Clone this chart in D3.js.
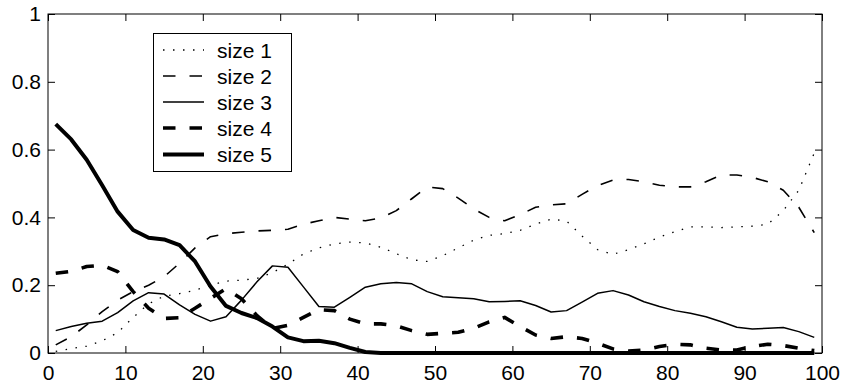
<!DOCTYPE html>
<html>
<head>
<meta charset="utf-8">
<script src="https://cdn.jsdelivr.net/npm/d3@7"></script>
<style>
  html, body { margin: 0; padding: 0; background: #fff; }
  svg { display: block; font-family: "Liberation Sans", Arial, Helvetica, sans-serif; }
</style>
</head>
<body>
<svg id="chart" width="844" height="387"></svg>
<script>
// x positions (odd generations 1..99)
const xs = d3.range(1, 100, 2);

const size1 = [0.005,0.013,0.02,0.036,0.06,0.105,0.145,0.168,0.175,0.185,
               0.2,0.212,0.215,0.22,0.237,0.262,0.292,0.31,0.322,0.327,
               0.325,0.312,0.293,0.275,0.27,0.287,0.31,0.333,0.347,0.352,
               0.362,0.38,0.395,0.389,0.345,0.305,0.291,0.305,0.322,0.342,
               0.358,0.372,0.372,0.37,0.372,0.374,0.38,0.42,0.48,0.59];

const size2 = [0.024,0.048,0.083,0.122,0.156,0.181,0.2,0.225,0.265,0.31,
               0.343,0.352,0.356,0.36,0.362,0.365,0.38,0.39,0.4,0.395,
               0.39,0.398,0.42,0.455,0.49,0.485,0.457,0.425,0.4,0.39,
               0.408,0.43,0.437,0.44,0.468,0.494,0.51,0.512,0.505,0.495,
               0.49,0.49,0.505,0.525,0.525,0.518,0.505,0.48,0.43,0.355];

const size3 = [0.066,0.078,0.088,0.094,0.119,0.154,0.178,0.174,0.142,0.114,
               0.094,0.107,0.156,0.21,0.257,0.253,0.195,0.137,0.135,0.164,
               0.194,0.204,0.208,0.204,0.181,0.166,0.163,0.16,0.151,0.152,
               0.154,0.14,0.121,0.125,0.15,0.176,0.184,0.171,0.151,0.137,
               0.125,0.117,0.107,0.092,0.076,0.071,0.073,0.075,0.063,0.046];

const size4 = [0.235,0.241,0.255,0.259,0.24,0.181,0.132,0.102,0.104,0.132,
               0.161,0.19,0.16,0.11,0.072,0.082,0.105,0.128,0.125,0.1,
               0.086,0.086,0.08,0.066,0.055,0.058,0.061,0.073,0.092,0.105,
               0.078,0.053,0.043,0.048,0.043,0.029,0.012,0.006,0.009,0.019,
               0.026,0.024,0.014,0.009,0.009,0.019,0.026,0.022,0.014,0.007];

const size5 = [0.675,0.63,0.57,0.495,0.417,0.363,0.34,0.335,0.318,0.27,
               0.196,0.139,0.118,0.103,0.078,0.046,0.035,0.036,0.029,0.015,
               0.003,0,0,0,0,0,0,0,0,0,
               0,0,0,0,0,0,0,0,0,0,
               0,0,0,0,0,0,0,0,0,0];

const seriesNames = ["size 1", "size 2", "size 3", "size 4", "size 5"];
const xTicks = [0,10,20,30,40,50,60,70,80,90,100];
const yTicks = [0,0.2,0.4,0.6,0.8,1];

const styles = [
  {w: 1.3, dash: "1.5 8.5"},
  {w: 1.6, dash: "12.5 14"},
  {w: 1.5, dash: null},
  {w: 3.6, dash: "12.5 14"},
  {w: 4.0, dash: null}
];

const svg = d3.select("#chart");
const L = 48, R = 822, T = 14, B = 353;
const x = d3.scaleLinear().domain([0, 100]).range([L, R]);
const y = d3.scaleLinear().domain([0, 1]).range([B, T]);

const fs = 21;

// axes
const gx = svg.append("g").attr("transform", `translate(0,${B})`)
  .call(d3.axisBottom(x).tickValues(xTicks).tickSizeInner(-7).tickSizeOuter(0).tickPadding(12).tickFormat(d3.format("d")));
const gy = svg.append("g").attr("transform", `translate(${L},0)`)
  .call(d3.axisLeft(y).tickValues(yTicks).tickSizeInner(-7).tickSizeOuter(0).tickPadding(7).tickFormat(d => d === 0 ? "0" : d === 1 ? "1" : d3.format(".1f")(d)));
const gt = svg.append("g").attr("transform", `translate(0,${T})`)
  .call(d3.axisTop(x).tickValues(xTicks).tickSizeInner(-7).tickSizeOuter(0).tickFormat(""));
const gr = svg.append("g").attr("transform", `translate(${R},0)`)
  .call(d3.axisRight(y).tickValues(yTicks).tickSizeInner(-7).tickSizeOuter(0).tickFormat(""));

[gx, gy, gt, gr].forEach(g => {
  g.select(".domain").remove();
  g.selectAll("line").attr("stroke", "#000").attr("stroke-width", 1);
  g.selectAll("text").attr("fill", "#000").style("font-size", fs + "px")
    .style("font-family", '"Liberation Sans", Arial, Helvetica, sans-serif');
});

// lines
const allSeries = [size1, size2, size3, size4, size5];
const line = d3.line().x((d, i) => x(xs[i])).y(d => y(d));
allSeries.forEach((s, k) => {
  svg.append("path")
    .datum(s)
    .attr("d", line)
    .attr("fill", "none")
    .attr("stroke", "#000")
    .attr("stroke-width", styles[k].w)
    .attr("stroke-linejoin", "round")
    .attr("stroke-dasharray", styles[k].dash);
});

// box
svg.append("rect").attr("x", L).attr("y", T).attr("width", R - L).attr("height", B - T)
  .attr("fill", "none").attr("stroke", "#000").attr("stroke-width", 1);

// legend
const lg = svg.append("g");
lg.append("rect").attr("x", 153.5).attr("y", 33.5).attr("width", 138).attr("height", 138)
  .attr("fill", "#fff").attr("stroke", "#000").attr("stroke-width", 1);
const rowY = [50, 76, 102, 128, 154.5];
seriesNames.forEach((name, k) => {
  lg.append("line").attr("x1", 163).attr("x2", 204).attr("y1", rowY[k]).attr("y2", rowY[k])
    .attr("stroke", "#000").attr("stroke-width", styles[k].w)
    .attr("stroke-dasharray", styles[k].dash);
  lg.append("text").attr("x", 217).attr("y", rowY[k]).attr("dy", "0.36em")
    .style("font-size", fs + "px").attr("fill", "#000").text(name);
});
</script>
</body>
</html>
